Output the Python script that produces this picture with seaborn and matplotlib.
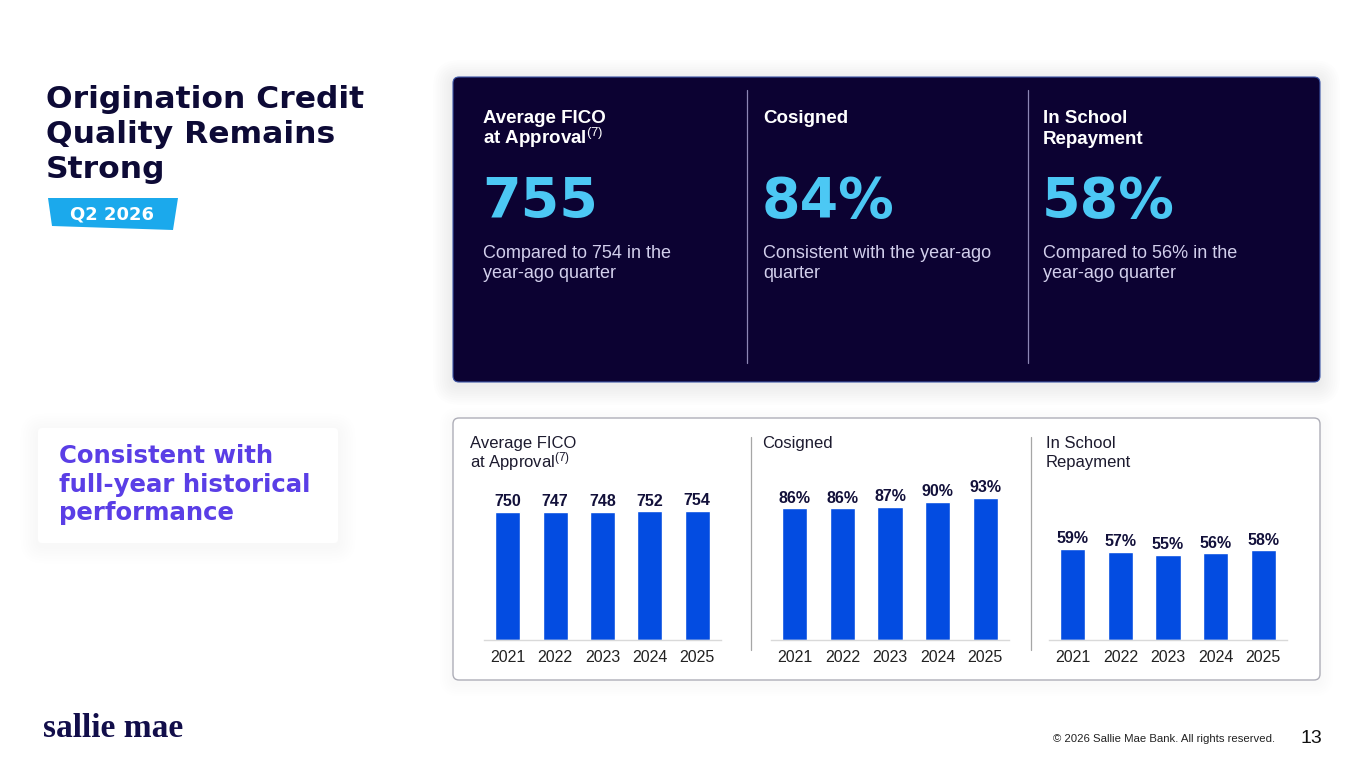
import matplotlib
matplotlib.use("Agg")
import matplotlib.pyplot as plt
from matplotlib.patches import FancyBboxPatch, Polygon
import seaborn as sns
import pandas as pd

# ---------------- data ----------------
years = ["2021", "2022", "2023", "2024", "2025"]
fico_values = [750, 747, 748, 752, 754]
cosigned_values = [86, 86, 87, 90, 93]
in_school_values = [59, 57, 55, 56, 58]

title_lines = ["Origination Credit", "Quality Remains", "Strong"]
period_label = "Q2 2026"
kpi_headers = [["Average FICO", "at Approval$^{\\mathrm{(7)}}$"], ["Cosigned"], ["In School", "Repayment"]]
kpi_values = ["755", "84%", "58%"]
kpi_notes = [["Compared to 754 in the", "year-ago quarter"],
             ["Consistent with the year-ago", "quarter"],
             ["Compared to 56% in the", "year-ago quarter"]]
chart_titles = [["Average FICO", "at Approval$^{\\mathrm{(7)}}$"], ["Cosigned"], ["In School", "Repayment"]]
callout_lines = ["Consistent with", "full-year historical", "performance"]
footer_text = "© 2026 Sallie Mae Bank. All rights reserved."
page_number = "13"
logo_text = "sallie mae"

# ---------------- style ----------------
sns.set_theme(style="white")
plt.rcParams["font.family"] = ["Liberation Sans", "DejaVu Sans"]
plt.rcParams["mathtext.fontset"] = "custom"
plt.rcParams["mathtext.rm"] = "Liberation Sans"
plt.rcParams["mathtext.it"] = "Liberation Sans"
plt.rcParams["mathtext.bf"] = "Liberation Sans:bold"

HEAVY = ["DejaVu Sans"]
NAVY = "#0d0a36"
DARK = "#0c0232"
CYAN = "#4cc8f4"
LAV = "#d2cfec"
BLUE = "#034ce1"
BADGE = "#1ba9ec"
PURPLE = "#5a3ee6"

W, H = 1365, 768
fig = plt.figure(figsize=(W / 100, H / 100), dpi=100)
fig.patch.set_facecolor("white")
bg = fig.add_axes([0, 0, 1, 1])
bg.set_xlim(0, W)
bg.set_ylim(H, 0)
bg.axis("off")


def rbox(x0, y0, x1, y1, fc, ec="none", lw=0, r=6, z=1, alpha=1.0):
    p = FancyBboxPatch((x0, y0), x1 - x0, y1 - y0,
                       boxstyle=f"round,pad=0,rounding_size={r}",
                       fc=fc, ec=ec, lw=lw, zorder=z, alpha=alpha)
    bg.add_patch(p)


def shadow(x0, y0, x1, y1, steps=9, spread=2.2, a=0.006):
    for i in range(steps, 0, -1):
        d = i * spread
        rbox(x0 - d, y0 - d + 3, x1 + d, y1 + d + 3, "#1a1a40", r=6 + d, z=0.5, alpha=a)


# ---------------- title ----------------
for i, line in enumerate(title_lines):
    bg.text(46, 108 + i * 35, line, fontsize=22.6, fontweight="bold", color=NAVY,
            va="baseline", ha="left", family=HEAVY)

bg.add_patch(Polygon([(48, 198), (178, 198), (173, 230), (52, 226)], closed=True,
                     fc=BADGE, ec="none", zorder=2))
bg.text(112, 220, period_label, fontsize=13, fontweight="bold", color="white",
        ha="center", va="baseline", zorder=3, family=HEAVY)

# ---------------- dark KPI panel ----------------
shadow(453, 77, 1320, 382)
rbox(453, 77, 1320, 382, DARK, ec="#3d56a8", lw=0.8, r=6, z=1)
for x in (747, 1028):
    bg.plot([x, x], [90, 363], color="#8c86b4", lw=0.9, zorder=2)

col_x = [483, 763, 1043]
for cx, hdr, val, notes in zip(col_x, kpi_headers, kpi_values, kpi_notes):
    for j, h in enumerate(hdr):
        bg.text(cx, 123 + j * 20.5, h, fontsize=13.5, fontweight="bold", color="white",
                va="baseline", zorder=3)
    bg.text(cx - 1, 217, val, fontsize=40, fontweight="bold", color=CYAN,
            va="baseline", zorder=3, family=HEAVY)
    for j, n in enumerate(notes):
        bg.text(cx, 258 + j * 20, n, fontsize=13, color=LAV, va="baseline", zorder=3)

# ---------------- bottom chart panel ----------------
shadow(453, 418, 1320, 680, steps=6, a=0.004)
rbox(453, 418, 1320, 680, "white", ec="#aeaeb8", lw=1.0, r=6, z=1)
for x in (751, 1031):
    bg.plot([x, x], [437, 650], color="#a6a6a6", lw=0.9, zorder=2)

title_x = [470, 762, 1046]
for tx, ttl in zip(title_x, chart_titles):
    for j, t in enumerate(ttl):
        bg.text(tx, 448 + j * 19, t, fontsize=12, color="#1c1a2e", va="baseline", zorder=3)

# callout box
shadow(38, 428, 338, 543, steps=7, spread=2.5, a=0.005)
rbox(38, 428, 338, 543, "white", r=4, z=1)
for j, t in enumerate(callout_lines):
    bg.text(59, 463 + j * 28.7, t, fontsize=17.6, fontweight="bold", color=PURPLE,
            va="baseline", zorder=3, family=HEAVY)

# logo & footer
bg.text(43, 737, logo_text, fontsize=24, fontweight="bold", color="#120e4a",
        va="baseline", ha="left", family=["Liberation Serif", "DejaVu Serif"])
bg.text(1275, 742, footer_text, fontsize=8.2, color="#222222", ha="right", va="baseline")
bg.text(1322, 743, page_number, fontsize=14, color="#111111", ha="right", va="baseline")

# ---------------- bar charts ----------------
charts = [
    (fico_values, 484, 721, 994, "{}"),
    (cosigned_values, 771, 1009, 111, "{}%"),
    (in_school_values, 1049, 1287, 110, "{}%"),
]
ax_top, ax_bot = 470, 640
for vals, x0, x1, ymax, fmt in charts:
    ax = fig.add_axes([x0 / W, 1 - ax_bot / H, (x1 - x0) / W, (ax_bot - ax_top) / H])
    df = pd.DataFrame({"year": years, "value": vals})
    sns.barplot(data=df, x="year", y="value", color=BLUE, saturation=1, width=0.53, ax=ax)
    ax.set_facecolor("none")
    ax.set_xlim(-0.5, len(years) - 0.5)
    ax.set_ylim(0, ymax)
    ax.set_xlabel("")
    ax.set_ylabel("")
    ax.set_yticks([])
    for s in ("top", "right", "left"):
        ax.spines[s].set_visible(False)
    ax.spines["bottom"].set_color("#d9d9d9")
    ax.spines["bottom"].set_linewidth(1.0)
    ax.set_xticks([i - 0.5 for i in range(len(years) + 1)], minor=True)
    ax.tick_params(axis="x", which="minor", length=4, color="#d9d9d9", width=1, direction="out")
    ax.tick_params(axis="x", which="major", length=0, pad=7, labelsize=11.5, labelcolor="#222222")
    ax.bar_label(ax.containers[0], labels=[fmt.format(v) for v in vals], padding=2,
                 fontsize=11.5, fontweight="bold", color="#12103a")

fig.savefig("out.png", dpi=100, facecolor="white")
